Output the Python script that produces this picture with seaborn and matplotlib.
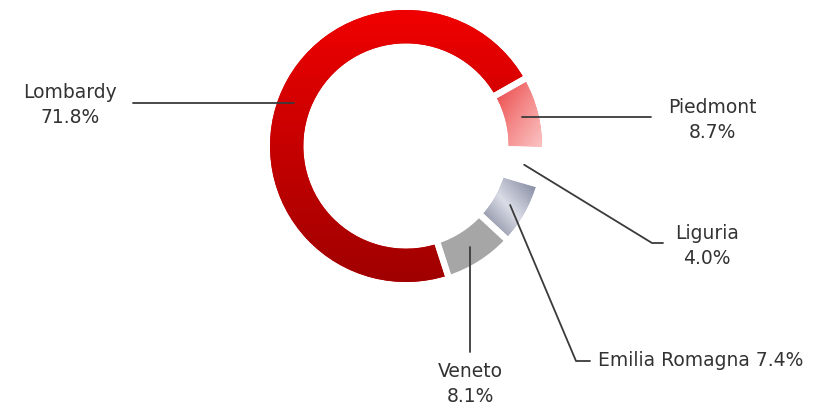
import numpy as np
import matplotlib
matplotlib.use("Agg")
import matplotlib.pyplot as plt
import seaborn as sns
from matplotlib.colors import LinearSegmentedColormap

# ---- data (clockwise order starting from upper right) ----
regions = ["Piedmont", "Liguria", "Emilia Romagna", "Veneto", "Lombardy"]
shares = [8.7, 4.0, 7.4, 8.1, 71.8]
share_labels = ["8.7%", "4.0%", "7.4%", "8.1%", "71.8%"]

sns.set_theme(style="white")
plt.rcParams["font.family"] = ["DejaVu Sans"]

W, H, DPI = 835, 405, 100
fig = plt.figure(figsize=(W / DPI, H / DPI), dpi=DPI)
ax = fig.add_axes([0, 0, 1, 1])

# pixel -> data helpers (1 data unit = 136 px, centre at px (406,146))
S, CX, CY = 136.0, 406.0, 146.0
def P(px, py):
    return ((px - CX) / S, (CY - py) / S)

base_colors = ["#f37a7a", "#ffffff", "#a9aec0", "#a6a6a6", "#cc0000"]
wedges, _ = ax.pie(shares, startangle=29.5, counterclock=False, radius=1.0,
                   colors=base_colors,
                   wedgeprops=dict(width=0.245, edgecolor="white", linewidth=0))

# gradient fills clipped to wedges
grads = {
    "Lombardy": (LinearSegmentedColormap.from_list("lo", ["#a00000", "#c60000", "#f00000"]), "vertical"),
    "Piedmont": (LinearSegmentedColormap.from_list("pi", ["#ea4040", "#f48888", "#fcc6c6"]), "diag"),
    "Emilia Romagna": (LinearSegmentedColormap.from_list("em", ["#6a7089", "#dadde6", "#747a94"]), "diag2"),
}
for w, name in zip(wedges, regions):
    if name not in grads:
        continue
    cmap, mode = grads[name]
    ext = w.get_path().get_extents()
    x0, y0, x1, y1 = ext.x0, ext.y0, ext.x1, ext.y1
    yy, xx = np.mgrid[0:1:200j, 0:1:200j]
    if mode == "vertical":
        t = yy
    elif mode == "diag":
        t = (xx + (1 - yy)) / 2
    else:
        t = (xx + yy) / 2
    im = ax.imshow(t, extent=(x0, x1, y0, y1), origin="lower", cmap=cmap,
                   aspect="auto", zorder=2, interpolation="bilinear")
    im.set_clip_path(w)

# white separators drawn on top
for w in wedges:
    w.set_zorder(1)
for w in wedges:
    for th in (w.theta1, w.theta2):
        a = np.deg2rad(th)
        ax.plot([0.70 * np.cos(a), 1.05 * np.cos(a)], [0.70 * np.sin(a), 1.05 * np.sin(a)],
                color="white", lw=4.5, zorder=3, solid_capstyle="butt")

# label layout (pixel positions of leader elbows and text)
layout = {
    "Lombardy": dict(kind="h", end=133, text=(70, 105)),
    "Piedmont": dict(kind="h", end=651, text=(712, 120)),
    "Liguria": dict(kind="path", path=[(652, 243), (663, 243)], text=(707, 246)),
    "Emilia Romagna": dict(kind="path", path=[(576, 361), (590, 361)], text=(598, 361)),
    "Veneto": dict(kind="v", end=352, text=None, ty=384),
}
tc = "#333333"
fs = 13.5
for w, name, lab in zip(wedges, regions, share_labels):
    mid = np.deg2rad((w.theta1 + w.theta2) / 2)
    r = 0.88
    ax0, ay0 = r * np.cos(mid), r * np.sin(mid)
    L = layout[name]
    if L["kind"] == "h":
        xe = P(L["end"], 0)[0]
        xs, ys = [ax0, xe], [ay0, ay0]
    elif L["kind"] == "v":
        ye = P(0, L["end"])[1]
        xs, ys = [ax0, ax0], [ay0, ye]
    else:
        xs, ys = [ax0], [ay0]
        for (px, py) in L["path"]:
            x, y = P(px, py)
            xs.append(x)
            ys.append(y)
    ax.plot(xs, ys, color="#3a3a3a", lw=1.3, zorder=4)
    if name == "Emilia Romagna":
        tx, ty = P(*L["text"])
        ax.text(tx, ty, f"{name} {lab}", ha="left", va="center", fontsize=fs,
                color=tc, zorder=5)
    else:
        if L["text"] is None:
            tx, ty = ax0, P(0, L["ty"])[1]
        else:
            tx, ty = P(*L["text"])
        ax.text(tx, ty, f"{name}\n{lab}", ha="center", va="center", fontsize=fs,
                color=tc, linespacing=1.35, multialignment="center", zorder=5)

ax.set_xlim(P(0, 0)[0], P(W, 0)[0])
ax.set_ylim(P(0, H)[1], P(0, 0)[1])
ax.set_aspect("equal")
ax.axis("off")
fig.savefig("out.png", dpi=DPI, facecolor="white")
